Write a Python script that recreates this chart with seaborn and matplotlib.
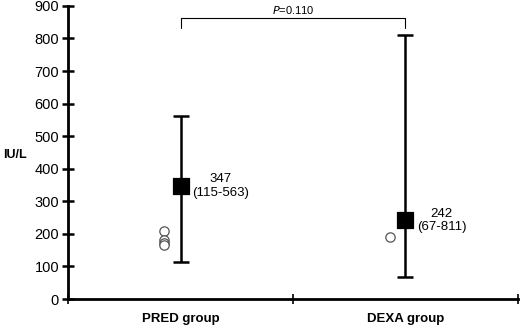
import numpy as np
import pandas as pd
import matplotlib
matplotlib.use("Agg")
import matplotlib.pyplot as plt
import seaborn as sns

# data
groups = ["PRED group", "DEXA group"]
medians = [347, 242]
lows = [115, 67]
highs = [563, 811]
pred_points = [208, 181, 172, 166]
dexa_points = [190]
p_text = "=0.110"

sns.set_theme(style="white", rc={"text.color": "black", "xtick.color": "black",
                                 "ytick.color": "black", "axes.labelcolor": "black"})
plt.rcParams["font.family"] = ["Liberation Sans", "DejaVu Sans"]

fig = plt.figure(figsize=(5.2, 3.29), dpi=100)
ax = fig.add_axes([0.131, 0.091, 0.865, 0.891])

pos = np.arange(len(groups)) + 0.5
summary = pd.DataFrame({"x": pos, "median": medians, "low": lows, "high": highs})
pts = pd.DataFrame({
    "x": [pos[0] - 0.075] * len(pred_points) + [pos[1] - 0.07] * len(dexa_points),
    "y": pred_points + dexa_points,
})

# error bars (range)
ax.errorbar(summary["x"], summary["median"],
            yerr=[summary["median"] - summary["low"], summary["high"] - summary["median"]],
            fmt="none", ecolor="black", elinewidth=1.8, capsize=6, capthick=1.8, zorder=2)
sns.scatterplot(data=summary, x="x", y="median", marker="s", s=125, color="black",
                edgecolor="black", ax=ax, zorder=3)
sns.scatterplot(data=pts, x="x", y="y", marker="o", s=45, facecolor="white",
                edgecolor="#555555", linewidth=0.9, ax=ax, zorder=3)

for x, m, lo, hi in zip(pos, medians, lows, highs):
    ax.text(x + 0.05, m, f"{m}\n({lo}-{hi})", ha="left", va="center",
            multialignment="center", fontsize=9.5, linespacing=1.15)

# significance bracket
yb = 862
ax.plot([pos[0], pos[0], pos[1], pos[1]], [832, yb, yb, 832], color="black", lw=0.8)
ax.text((pos[0] + pos[1]) / 2, yb + 8, "$\\it{P}$" + p_text, ha="center", va="bottom",
        fontsize=8)

ax.set_xlim(0, 2)
ax.set_ylim(0, 900)
ax.set_yticks(np.arange(0, 901, 100))
ax.set_xticks([0, 1, 2])
ax.set_xticklabels([])
ax.set_xticks(pos, minor=True)
ax.set_xticklabels(groups, minor=True, fontweight="bold", fontsize=9.5)
ax.tick_params(axis="x", which="minor", bottom=False, length=0, pad=10)
ax.tick_params(axis="x", which="major", bottom=True, direction="inout", length=7, width=1.2)
ax.tick_params(axis="y", left=True, direction="inout", length=9, width=1.8,
               labelsize=10.5, pad=2)
ax.set_xlabel("")
ax.set_ylabel("IU/L", rotation=0, fontweight="bold", fontsize=9, va="center", ha="left")
ax.yaxis.set_label_coords(-0.145, 0.49)

sns.despine(ax=ax)
ax.spines["left"].set_linewidth(2)
ax.spines["bottom"].set_linewidth(2)
ax.spines["left"].set_color("black")
ax.spines["bottom"].set_color("black")

fig.savefig("out.png", dpi=100)
